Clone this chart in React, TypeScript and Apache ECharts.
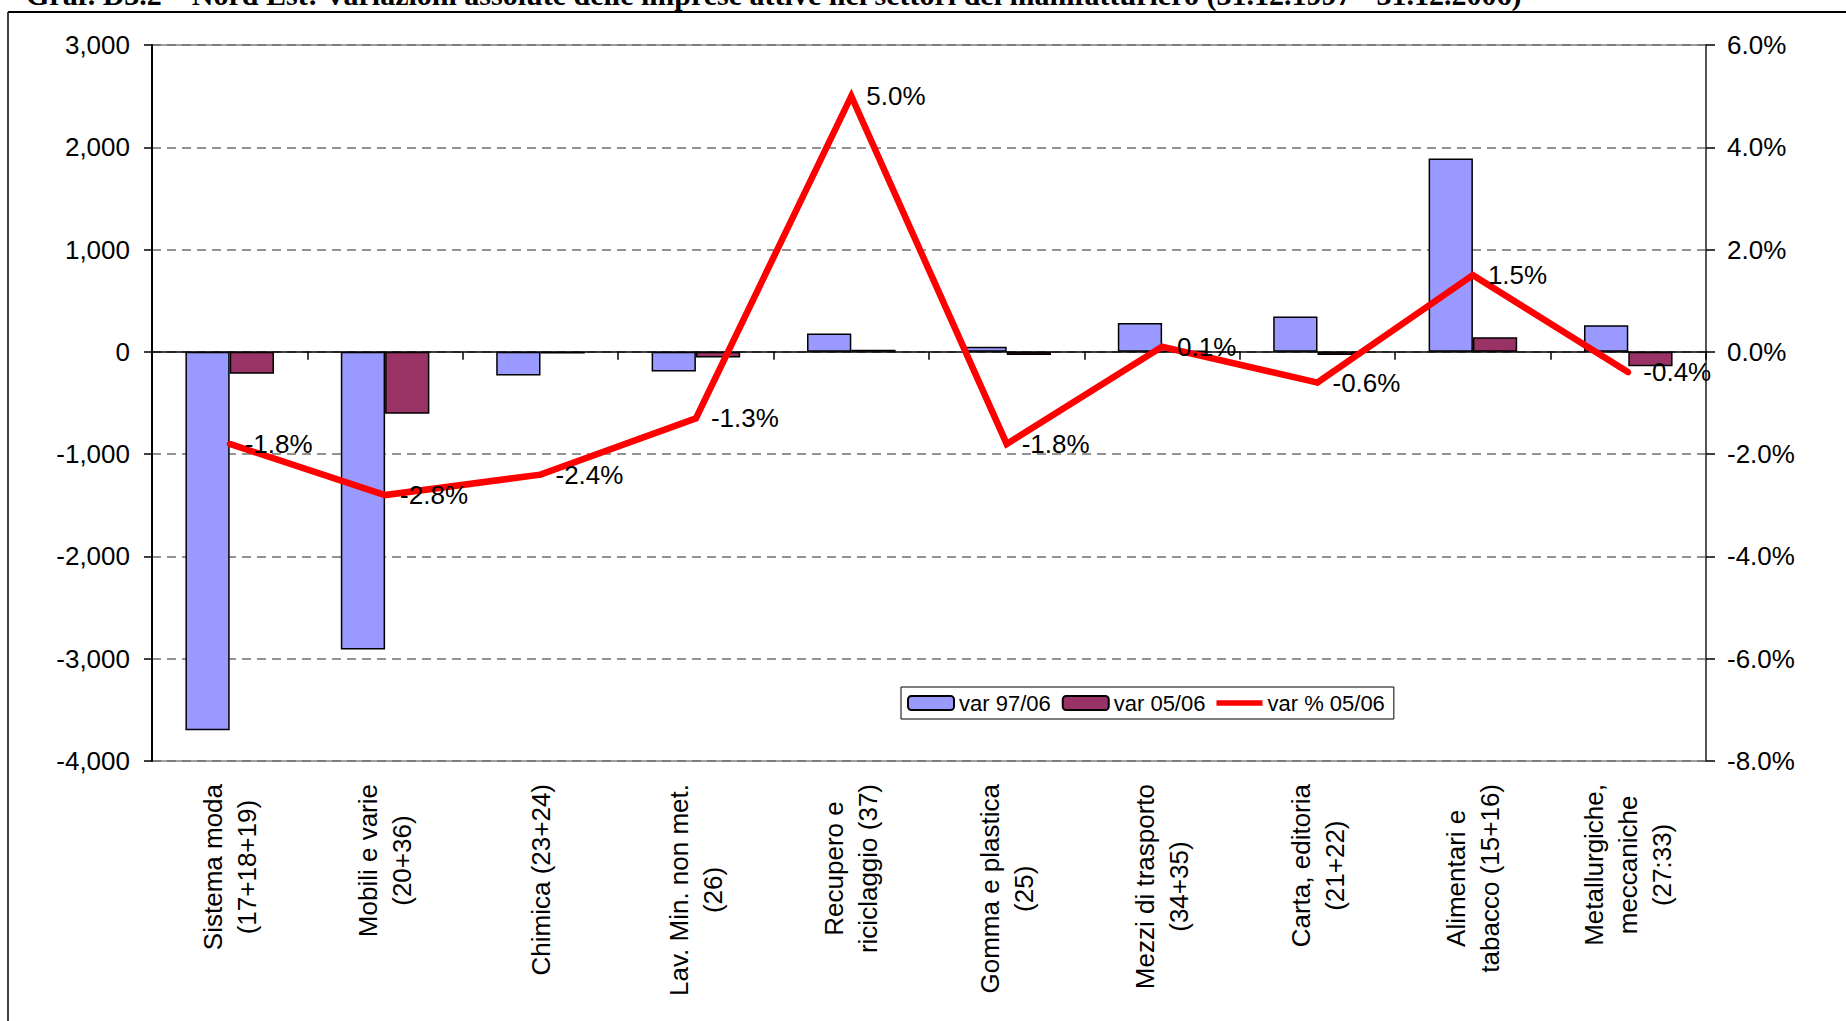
import React, { useEffect, useRef } from "react";
import * as echarts from "echarts";

const titleText =
  "Graf. D3.2 – Nord Est: Variazioni assolute delle imprese attive nei settori del manifatturiero (31.12.1997 - 31.12.2006)";

const categories = [
  "Sistema moda\n(17+18+19)",
  "Mobili e varie\n(20+36)",
  "Chimica (23+24)",
  "Lav. Min. non met.\n(26)",
  "Recupero e\nriciclaggio (37)",
  "Gomma e plastica\n(25)",
  "Mezzi di trasporto\n(34+35)",
  "Carta, editoria\n(21+22)",
  "Alimentari e\ntabacco (15+16)",
  "Metallurgiche,\nmeccaniche\n(27:33)",
];

const seriesNames = ["var 97/06", "var 05/06", "var % 05/06"];
const var9706 = [-3700, -2910, -232, -192, 180, 50, 283, 345, 1890, 261];
const var0506 = [-215, -606, -15, -55, 20, -30, 10, -30, 144, -140];
const varPct0506 = [-1.8, -2.8, -2.4, -1.3, 5.0, -1.8, 0.1, -0.6, 1.5, -0.4];

const leftAxis = { min: -4000, max: 3000, interval: 1000 };
const rightAxis = { min: -8, max: 6, interval: 2 };

const FONT = '"Liberation Sans", Arial, sans-serif';

function fmtThousands(v: number): string {
  const s = Math.abs(v).toString().replace(/\B(?=(\d{3})+(?!\d))/g, ",");
  return (v < 0 ? "-" : "") + s;
}

export default function App() {
  const ref = useRef<HTMLDivElement>(null);

  useEffect(() => {
    if (!ref.current) return;
    const chart = echarts.init(ref.current, null, { renderer: "svg" });
    const option: any = {
      animation: false,
      backgroundColor: "#ffffff",
      textStyle: { fontFamily: FONT },
      grid: {
        left: 152,
        right: 140,
        top: 45,
        bottom: 260,
        show: true,
        borderColor: "#a0a0a0",
        borderWidth: 2,
        backgroundColor: "#ffffff",
      },
      legend: {
        left: 901,
        top: 687,
        orient: "horizontal",
        itemWidth: 46,
        itemHeight: 14,
        itemGap: 11,
        padding: [5, 9, 5, 6],
        borderColor: "#000000",
        borderWidth: 1,
        backgroundColor: "#ffffff",
        textStyle: { fontSize: 22, color: "#000000", fontFamily: FONT },
        data: [
          { name: seriesNames[0] },
          { name: seriesNames[1] },
          { name: seriesNames[2], icon: "path://M0 0H50V6H0Z", itemStyle: { color: "#FF0000", borderWidth: 0 } },
        ],
      },
      xAxis: [
        {
          type: "category",
          data: categories,
          position: "bottom",
          axisLine: { onZero: true, onZeroAxisIndex: 0, lineStyle: { color: "#000000", width: 1.5 } },
          axisTick: { show: true, alignWithLabel: false, length: 8, lineStyle: { color: "#000000", width: 1.5 } },
          axisLabel: { show: false },
          splitLine: { show: false },
        },
        {
          type: "category",
          data: categories,
          position: "bottom",
          axisLine: { show: false, onZero: false },
          axisTick: { show: false },
          axisLabel: {
            show: true,
            interval: 0,
            rotate: 90,
            margin: 23,
            color: "#000000",
            fontSize: 26,
            fontFamily: FONT,
            formatter: (v: string) =>
              v
                .split("\n")
                .map((l) => "{c|" + l + "}")
                .join("\n"),
            rich: {
              c: { align: "center", fontSize: 26, lineHeight: 34, fontFamily: FONT, color: "#000000" },
            },
          },
          splitLine: { show: false },
        },
      ],
      yAxis: [
        {
          type: "value",
          min: leftAxis.min,
          max: leftAxis.max,
          interval: leftAxis.interval,
          position: "left",
          axisLine: { show: true, lineStyle: { color: "#000000", width: 2 } },
          axisTick: { show: true, length: 8, lineStyle: { color: "#000000", width: 1.5 } },
          axisLabel: {
            margin: 22,
            fontSize: 26,
            color: "#000000",
            fontFamily: FONT,
            formatter: (v: number) => fmtThousands(v),
          },
          splitLine: { show: true, lineStyle: { color: "#707070", width: 1.5, type: [9, 6] } },
        },
        {
          type: "value",
          min: rightAxis.min,
          max: rightAxis.max,
          interval: rightAxis.interval,
          position: "right",
          axisLine: { show: true, lineStyle: { color: "#555555", width: 2 } },
          axisTick: { show: true, length: 9, lineStyle: { color: "#000000", width: 1.5 } },
          axisLabel: {
            margin: 21,
            fontSize: 26,
            color: "#000000",
            fontFamily: FONT,
            formatter: (v: number) => v.toFixed(1) + "%",
          },
          splitLine: { show: false },
        },
      ],
      series: [
        {
          name: seriesNames[0],
          type: "bar",
          xAxisIndex: 0,
          yAxisIndex: 0,
          data: var9706,
          barGap: "0%",
          barCategoryGap: "43%",
          itemStyle: { color: "#9999FF", borderColor: "#000000", borderWidth: 1.5 },
        },
        {
          name: seriesNames[1],
          type: "bar",
          xAxisIndex: 0,
          yAxisIndex: 0,
          data: var0506,
          barGap: "0%",
          barCategoryGap: "43%",
          itemStyle: { color: "#993366", borderColor: "#000000", borderWidth: 1.5 },
        },
        {
          name: seriesNames[2],
          type: "line",
          xAxisIndex: 0,
          yAxisIndex: 1,
          data: varPct0506,
          symbol: "circle",
          symbolSize: 6,
          showSymbol: true,
          lineStyle: { color: "#FF0000", width: 6.5, join: "miter" },
          itemStyle: { color: "#FF0000" },
          z: 5,
          label: {
            show: true,
            position: "right",
            distance: 12,
            fontSize: 26,
            color: "#000000",
            fontFamily: FONT,
            formatter: (p: any) => Number(p.value).toFixed(1) + "%",
          },
        },
      ],
      graphic: [
        {
          type: "line",
          silent: true,
          shape: { x1: 8, y1: 12, x2: 1846, y2: 12 },
          style: { stroke: "#000000", lineWidth: 2 },
        },
        {
          type: "line",
          silent: true,
          shape: { x1: 8, y1: 12, x2: 8, y2: 1021 },
          style: { stroke: "#000000", lineWidth: 1.5 },
        },
        {
          type: "text",
          silent: true,
          x: 26,
          y: 9,
          style: {
            text: titleText,
            font: 'bold 30px "Liberation Serif", "Times New Roman", serif',
            fill: "#000000",
            verticalAlign: "bottom",
            align: "left",
          },
        },
      ],
    };
    chart.setOption(option);
    return () => chart.dispose();
  }, []);

  return (
    <div
      ref={ref}
      style={{ position: "fixed", left: 0, top: 0, width: 1846, height: 1021, background: "#fff" }}
    />
  );
}
